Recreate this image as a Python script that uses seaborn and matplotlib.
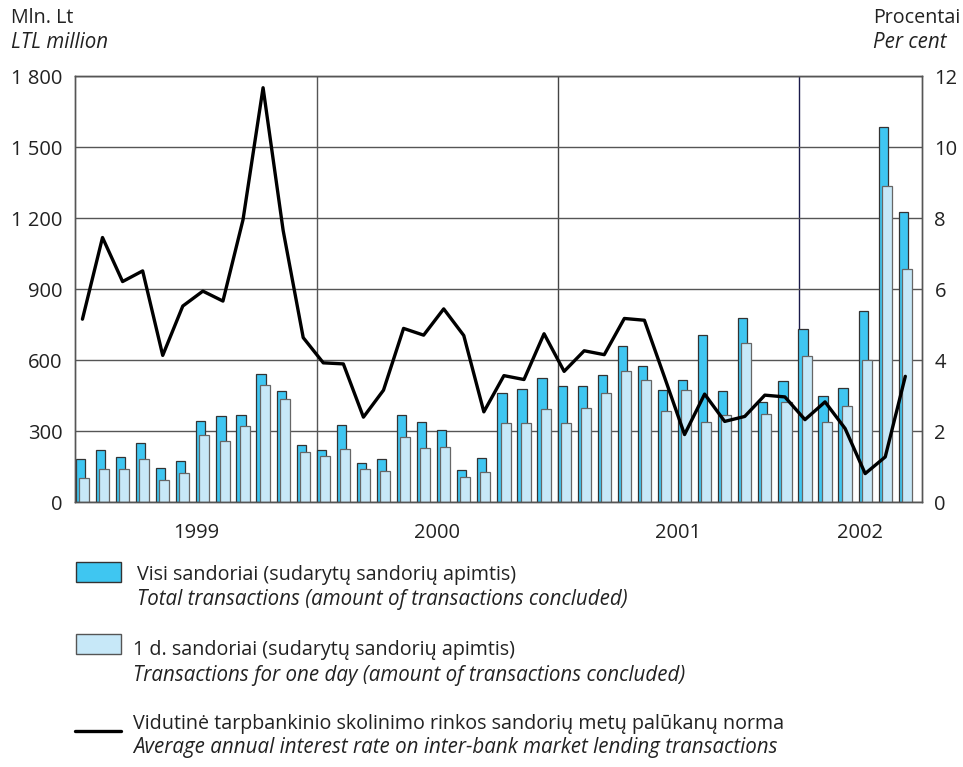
import seaborn as sns
import matplotlib.pyplot as plt
import matplotlib.patches as mpatches
import matplotlib.lines as mlines
import numpy as np
import pandas as pd

# monthly data, Jan 1999 - Jun 2002
months = pd.period_range('1999-01', '2002-06', freq='M').astype(str)
total = [180, 221, 189, 251, 145, 175, 342, 365, 368, 540, 469, 242,
         221, 325, 166, 183, 369, 338, 306, 135, 186, 462, 479, 524,
         490, 490, 538, 661, 576, 475, 516, 707, 468, 779, 424, 510,
         733, 448, 480, 807, 1584, 1227]
one_day = [101, 138, 140, 180, 92, 123, 283, 258, 321, 493, 435, 211,
           193, 224, 138, 133, 275, 228, 232, 104, 128, 332, 335, 394,
           335, 398, 462, 554, 517, 386, 473, 340, 369, 673, 373, 423,
           618, 340, 406, 599, 1337, 986]
rate = [5.15, 7.45, 6.21, 6.51, 4.13, 5.52, 5.94, 5.66, 7.95, 11.67, 7.65, 4.63,
        3.92, 3.89, 2.39, 3.15, 4.89, 4.70, 5.44, 4.69, 2.54, 3.56, 3.45, 4.74,
        3.68, 4.26, 4.15, 5.17, 5.12, 3.52, 1.90, 3.04, 2.27, 2.41, 3.01, 2.96,
        2.32, 2.82, 2.07, 0.80, 1.27, 3.54]
years = ['1999', '2000', '2001', '2002']

DARK = '#3FC6F1'
LIGHT = '#C7E8F8'
GRID = '#555555'
TXT = '#222222'
FS = 14.5      # tick labels
FS_UP = 14.2   # upright captions
FS_IT = 14.8   # italic captions

sns.set_style('white')
plt.rcParams['font.family'] = ['Open Sans', 'DejaVu Sans']

df = pd.DataFrame({'month': months, 'idx': np.arange(len(months)),
                   'total': total, 'one_day': one_day, 'rate': rate})

fig = plt.figure(figsize=(9.63, 7.67), dpi=100)
ax = fig.add_axes([0.0779, 0.3455, 0.8795, 0.5554])

sns.barplot(x=df['idx'] - 0.10, y=df['total'], native_scale=True, width=0.46,
            color=DARK, saturation=1, edgecolor='#333333', linewidth=0.9, ax=ax)
sns.barplot(x=df['idx'] + 0.08, y=df['one_day'], native_scale=True, width=0.50,
            color=LIGHT, saturation=1, edgecolor='#666666', linewidth=0.9, ax=ax)

ax.set_xlim(-0.37, 41.83)
ax.set_ylim(0, 1800)
ax.set_yticks(np.arange(0, 1801, 300))
ax.yaxis.set_major_formatter(plt.FuncFormatter(lambda v, p: format(int(v), ',').replace(',', ' ')))
ax.set_axisbelow(True)
ax.yaxis.grid(True, color=GRID, linewidth=1.0)

# year separators and centred year labels
seps = [11.67, 23.69, 35.69]
sep_colors = [GRID, '#444444', '#1a1a4a']
for s, c in zip(seps, sep_colors):
    ax.axvline(s, color=c, linewidth=1.0, zorder=0.5)
bounds = [ax.get_xlim()[0]] + seps + [ax.get_xlim()[1]]
ax.set_xticks([(a + b) / 2 for a, b in zip(bounds[:-1], bounds[1:])])
ax.set_xticklabels(years)
ax.tick_params(axis='x', length=0, pad=15, labelsize=FS, colors=TXT)
ax.tick_params(axis='y', length=0, pad=9, labelsize=FS, colors=TXT)
ax.set_xlabel('')
ax.set_ylabel('')
for sp in ax.spines.values():
    sp.set_visible(True)
    sp.set_color(GRID)
    sp.set_linewidth(1.0)

ax2 = ax.twinx()
sns.lineplot(x=df['idx'], y=df['rate'], color='black', linewidth=2.4, ax=ax2)
ax2.set_ylim(0, 12)
ax2.set_yticks(np.arange(0, 13, 2))
ax2.tick_params(axis='y', length=0, pad=9, labelsize=FS, colors=TXT)
ax2.set_ylabel('')
ax2.set_xlim(ax.get_xlim())
for sp in ax2.spines.values():
    sp.set_visible(True)
    sp.set_color(GRID)
    sp.set_linewidth(1.0)

# axis unit captions
fig.text(11 / 963, 1 - 18 / 767, 'Mln. Lt', fontsize=FS_UP, va='center', color=TXT)
fig.text(11 / 963, 1 - 42 / 767, 'LTL million', fontsize=FS_IT, style='italic', va='center', color=TXT)
fig.text(873 / 963, 1 - 18 / 767, 'Procentai', fontsize=FS_UP, va='center', color=TXT)
fig.text(873 / 963, 1 - 42 / 767, 'Per cent', fontsize=FS_IT, style='italic', va='center', color=TXT)

# manual legend
leg = fig.add_axes([0, 0, 1, 1], facecolor='none')
leg.set_xlim(0, 963)
leg.set_ylim(767, 0)
leg.axis('off')
leg.add_patch(mpatches.Rectangle((76, 562), 45, 20, facecolor=DARK, edgecolor='#333333', linewidth=1))
leg.add_patch(mpatches.Rectangle((76, 634), 45, 20, facecolor=LIGHT, edgecolor='#555555', linewidth=1))
leg.add_line(mlines.Line2D([75, 121], [731, 731], color='black', linewidth=2.4))
entries = [
    (137, 575, 600, 'Visi sandoriai (sudarytų sandorių apimtis)',
     'Total transactions (amount of transactions concluded)'),
    (133, 650, 675, '1 d. sandoriai (sudarytų sandorių apimtis)',
     'Transactions for one day (amount of transactions concluded)'),
    (133, 724, 748, 'Vidutinė tarpbankinio skolinimo rinkos sandorių metų palūkanų norma',
     'Average annual interest rate on inter-bank market lending transactions'),
]
for x, y1, y2, lt, en in entries:
    leg.text(x, y1, lt, fontsize=FS_UP, va='center', color=TXT)
    leg.text(x, y2, en, fontsize=FS_IT, va='center', style='italic', color=TXT)

plt.savefig('out.png', dpi=100)
plt.close()
